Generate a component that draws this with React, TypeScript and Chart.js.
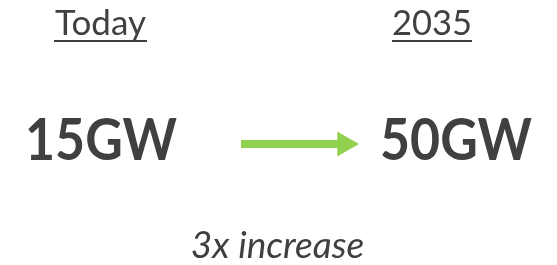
import React, { useEffect, useRef } from "react";
import { Chart, registerables } from "chart.js";

Chart.register(...registerables);

const periods = ["Today", "2035"];
const capacityGW = [15, 50];
const unit = "GW";
const changeLabel = "3x increase";

const TEXT = "#404040";
const GREEN = "#92D050";

const W = 557;
const H = 265;

// layout (pixel-space scale: x 0..557, y 0..265 top-down)
const headerCenters = [100.5, 432];
const headerWidths = [93, 80];
const valueCenters = [101, 456];
const valueWidths = [152, 152];
const arrowStartX = 241;
const arrowTipX = 359;
const arrowY = 144;
const headR = 14.5;

const textPlugin = {
  id: "infographicText",
  afterDatasetsDraw(chart: any) {
    const { ctx } = chart;
    const xs = chart.scales.x;
    const ys = chart.scales.y;
    ctx.save();
    ctx.fillStyle = TEXT;
    ctx.textAlign = "center";
    ctx.textBaseline = "alphabetic";
    periods.forEach((p, i) => {
      ctx.font = "35px Lato";
      const cx = xs.getPixelForValue(headerCenters[i]);
      ctx.fillText(p, cx, ys.getPixelForValue(34.5), headerWidths[i]);
      ctx.fillRect(cx - headerWidths[i] / 2, ys.getPixelForValue(40), headerWidths[i], 2);
      ctx.font = "bold 57px Lato";
      ctx.fillText(
        `${capacityGW[i]}${unit}`,
        xs.getPixelForValue(valueCenters[i]),
        ys.getPixelForValue(160),
        valueWidths[i]
      );
    });
    ctx.font = "italic 37px Lato";
    ctx.fillText(changeLabel, xs.getPixelForValue(277.5), ys.getPixelForValue(258), 175);
    ctx.restore();
  },
};

export default function App() {
  const ref = useRef<HTMLCanvasElement | null>(null);
  useEffect(() => {
    if (!ref.current) return;
    const chart = new Chart(ref.current, {
      type: "scatter",
      data: {
        datasets: [
          {
            type: "line",
            data: [
              { x: arrowStartX, y: arrowY },
              { x: arrowTipX - headR - 2, y: arrowY },
            ],
            borderColor: GREEN,
            borderWidth: 8,
            borderCapStyle: "butt",
            pointRadius: 0,
          } as any,
          {
            data: [{ x: arrowTipX - headR, y: arrowY }],
            backgroundColor: GREEN,
            borderColor: GREEN,
            borderWidth: 0,
            pointStyle: "triangle",
            rotation: 90,
            pointRadius: headR,
          } as any,
        ],
      },
      options: {
        animation: false,
        responsive: false,
        maintainAspectRatio: false,
        layout: { padding: 0, autoPadding: false },
        plugins: { legend: { display: false }, tooltip: { enabled: false } },
        scales: {
          x: { type: "linear", min: 0, max: W, display: false },
          y: { type: "linear", min: 0, max: H, reverse: true, display: false },
        },
      },
      plugins: [textPlugin],
    });
    return () => chart.destroy();
  }, []);
  return (
    <div style={{ position: "fixed", left: 0, top: 0, width: W, height: H, background: "#fff" }}>
      <canvas ref={ref} width={W} height={H} style={{ width: W, height: H, display: "block" }} />
    </div>
  );
}
